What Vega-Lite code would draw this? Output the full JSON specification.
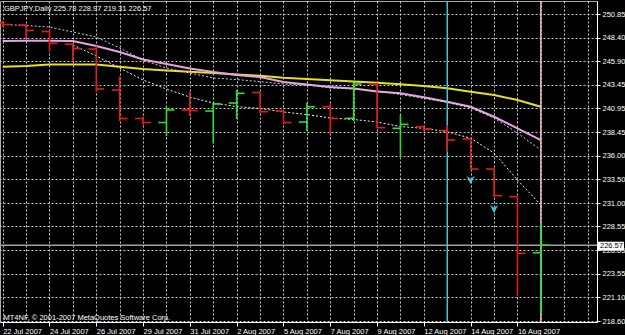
{
  "$schema": "https://vega.github.io/schema/vega-lite/v6.json",
  "width": 597,
  "height": 321,
  "autosize": {"type": "none"},
  "padding": {"left": 0, "top": 1, "right": 28, "bottom": 13},
  "background": "#000000",
  "config": {
    "view": {"stroke": "#a8a8a8", "strokeWidth": 1},
    "font": "Liberation Sans",
    "axis": {
      "gridColor": "#e0e0e0", "gridDash": [2, 2], "gridWidth": 1, "gridOpacity": 0.9,
      "domainColor": "#ffffff", "domainWidth": 1,
      "labelColor": "#ffffff", "labelFontSize": 7.5, "labelFont": "Liberation Sans",
      "labelOverlap": false, "labelBound": false, "labelFlush": false
    },
    "axisX": {"tickSize": 4, "labelAlign": "left", "labelDx": 1, "labelPadding": 1, "labelBaseline": "top"},
    "axisY": {"tickSize": 3, "tickColor": "#ffffff", "labelPadding": 2}
  },
  "title": {
    "text": "GBPJPY,Daily  225.78 228.97 219.31 226.57",
    "anchor": "start", "frame": "group", "orient": "top", "offset": -18,
    "baseline": "alphabetic", "dx": 4, "color": "#ffffff", "fontSize": 7.5,
    "fontWeight": "normal", "font": "Liberation Sans"
  },
  "resolve": {"axis": {"x": "independent", "y": "independent"}},
  "datasets": {
    "ohlc": [
      {"i": 0, "d": "22 Jul 2007", "o": 249.94, "h": 250.15, "l": 249.51, "c": 249.78},
      {"i": 1, "d": "23 Jul 2007", "o": 249.72, "h": 249.80, "l": 248.33, "c": 249.15},
      {"i": 2, "d": "24 Jul 2007", "o": 249.04, "h": 249.20, "l": 246.94, "c": 247.80},
      {"i": 3, "d": "25 Jul 2007", "o": 247.70, "h": 247.80, "l": 245.89, "c": 247.25},
      {"i": 4, "d": "26 Jul 2007", "o": 247.20, "h": 247.52, "l": 242.68, "c": 243.00},
      {"i": 5, "d": "27 Jul 2007", "o": 242.89, "h": 244.29, "l": 239.63, "c": 239.89},
      {"i": 6, "d": "29 Jul 2007", "o": 239.89, "h": 240.10, "l": 239.16, "c": 239.47},
      {"i": 7, "d": "30 Jul 2007", "o": 239.47, "h": 241.15, "l": 238.05, "c": 240.79},
      {"i": 8, "d": "31 Jul 2007", "o": 240.79, "h": 242.73, "l": 240.16, "c": 240.73},
      {"i": 9, "d": "1 Aug 2007", "o": 240.68, "h": 241.52, "l": 237.29, "c": 241.42},
      {"i": 10, "d": "2 Aug 2007", "o": 241.52, "h": 242.89, "l": 239.84, "c": 242.54},
      {"i": 11, "d": "3 Aug 2007", "o": 242.63, "h": 242.68, "l": 240.42, "c": 240.61},
      {"i": 12, "d": "5 Aug 2007", "o": 240.68, "h": 240.79, "l": 239.42, "c": 239.47},
      {"i": 13, "d": "6 Aug 2007", "o": 239.52, "h": 241.55, "l": 238.58, "c": 241.13},
      {"i": 14, "d": "7 Aug 2007", "o": 241.13, "h": 241.49, "l": 238.32, "c": 239.89},
      {"i": 15, "d": "8 Aug 2007", "o": 239.91, "h": 243.76, "l": 239.63, "c": 243.52},
      {"i": 16, "d": "9 Aug 2007", "o": 243.52, "h": 243.66, "l": 238.84, "c": 238.93},
      {"i": 17, "d": "10 Aug 2007", "o": 238.86, "h": 240.26, "l": 235.88, "c": 239.28},
      {"i": 18, "d": "12 Aug 2007", "o": 239.03, "h": 239.16, "l": 238.58, "c": 238.79},
      {"i": 19, "d": "13 Aug 2007", "o": 238.63, "h": 239.21, "l": 236.37, "c": 237.63},
      {"i": 20, "d": "14 Aug 2007", "o": 237.74, "h": 237.81, "l": 234.53, "c": 234.58},
      {"i": 21, "d": "15 Aug 2007", "o": 234.58, "h": 234.66, "l": 231.64, "c": 231.78},
      {"i": 22, "d": "16 Aug 2007", "o": 231.67, "h": 231.69, "l": 221.33, "c": 225.72},
      {"i": 23, "d": "17 Aug 2007", "o": 225.78, "h": 228.97, "l": 219.31, "c": 226.57}
    ],
    "ma": [
      {"i": 0, "yellow": 245.34, "pink": 248.04, "g": 249.78, "w": null},
      {"i": 1, "yellow": 245.41, "pink": 248.07, "g": 249.67, "w": null},
      {"i": 2, "yellow": 245.57, "pink": 248.07, "g": 249.51, "w": null},
      {"i": 3, "yellow": 245.57, "pink": 248.04, "g": 248.99, "w": 247.62},
      {"i": 4, "yellow": 245.57, "pink": 247.52, "g": 248.46, "w": 246.47},
      {"i": 5, "yellow": 245.34, "pink": 246.89, "g": 247.31, "w": 245.20},
      {"i": 6, "yellow": 245.10, "pink": 246.10, "g": 246.04, "w": 243.94},
      {"i": 7, "yellow": 244.94, "pink": 245.62, "g": 245.20, "w": 243.00},
      {"i": 8, "yellow": 244.81, "pink": 245.15, "g": 244.68, "w": 242.15},
      {"i": 9, "yellow": 244.68, "pink": 244.78, "g": 244.15, "w": 241.52},
      {"i": 10, "yellow": 244.52, "pink": 244.47, "g": 243.99, "w": 241.15},
      {"i": 11, "yellow": 244.39, "pink": 244.26, "g": 243.78, "w": 240.95},
      {"i": 12, "yellow": 244.18, "pink": 243.73, "g": 243.52, "w": 240.58},
      {"i": 13, "yellow": 244.05, "pink": 243.47, "g": 243.42, "w": 240.31},
      {"i": 14, "yellow": 243.91, "pink": 243.21, "g": 243.10, "w": 239.95},
      {"i": 15, "yellow": 243.78, "pink": 243.05, "g": 243.00, "w": 239.79},
      {"i": 16, "yellow": 243.66, "pink": 242.73, "g": 242.79, "w": 239.53},
      {"i": 17, "yellow": 243.49, "pink": 242.54, "g": 242.42, "w": 239.05},
      {"i": 18, "yellow": 243.31, "pink": 242.12, "g": 242.00, "w": 238.86},
      {"i": 19, "yellow": 243.07, "pink": 241.66, "g": 241.58, "w": 238.51},
      {"i": 20, "yellow": 242.71, "pink": 241.13, "g": 241.00, "w": 237.81},
      {"i": 21, "yellow": 242.36, "pink": 240.08, "g": 239.95, "w": 236.27},
      {"i": 22, "yellow": 241.84, "pink": 238.86, "g": 238.37, "w": 233.43},
      {"i": 23, "yellow": 241.13, "pink": 237.63, "g": 236.58, "w": 230.80}
    ],
    "arrows": [
      {"i": 20, "v": 233.43},
      {"i": 21, "v": 230.38}
    ],
    "bid": [{"bid": 226.57}]
  },
  "layer": [
    {
      "data": {"name": "ma"},
      "mark": {"type": "line", "color": "#e2e21e", "strokeWidth": 2},
      "encoding": {
        "x": {
          "field": "i", "type": "quantitative",
          "scale": {"domain": [-0.115, 25.4], "nice": false, "zero": false},
          "axis": {
            "values": [0,1,2,3,4,5,6,7,8,9,10,11,12,13,14,15,16,17,18,19,20,21,22,23,24,25],
            "grid": true,
            "tickColor": {"condition": {"test": "datum.value % 2 == 1 || datum.value > 22", "value": "rgba(0,0,0,0)"}, "value": "#ffffff"},
            "labelExpr": "(datum.value % 2 == 0 && datum.value <= 22) ? ['22 Jul 2007','24 Jul 2007','26 Jul 2007','29 Jul 2007','31 Jul 2007','2 Aug 2007','5 Aug 2007','7 Aug 2007','9 Aug 2007','12 Aug 2007','14 Aug 2007','16 Aug 2007'][datum.value / 2] : ''",
            "labelOverlap": false,
            "title": "MT4NF, © 2001-2007 MetaQuotes Software Corp.",
            "titleX": 3, "titleY": -3, "titleAlign": "left", "titleAnchor": "start",
            "titleBaseline": "alphabetic", "titleColor": "#ffffff", "titleFontSize": 7.5,
            "titleFontWeight": "normal", "titleFont": "Liberation Sans"
          }
        },
        "y": {
          "field": "yellow", "type": "quantitative",
          "scale": {"domain": [218.495, 252.25], "nice": false, "zero": false},
          "axis": {
            "orient": "right",
            "values": [218.6, 221.1, 223.55, 226.05, 228.55, 231.0, 233.5, 236.0, 238.45, 240.95, 243.45, 245.9, 248.4, 250.85],
            "format": ".2f",
            "grid": true,
            "labelOverlap": false,
            "title": null
          }
        }
      }
    },
    {
      "data": {"name": "ma"},
      "mark": {"type": "line", "color": "#e4a4e4", "strokeWidth": 2},
      "encoding": {
        "x": {"field": "i", "type": "quantitative", "axis": null, "scale": {"domain": [-0.115, 25.4], "nice": false, "zero": false}},
        "y": {"field": "pink", "type": "quantitative", "axis": null, "scale": {"domain": [218.495, 252.25], "nice": false, "zero": false}}
      }
    },
    {
      "data": {"name": "ma"},
      "mark": {"type": "line", "color": "#d0d0d0", "strokeWidth": 1, "strokeDash": [2, 2]},
      "encoding": {
        "x": {"field": "i", "type": "quantitative", "axis": null, "scale": {"domain": [-0.115, 25.4], "nice": false, "zero": false}},
        "y": {"field": "g", "type": "quantitative", "axis": null, "scale": {"domain": [218.495, 252.25], "nice": false, "zero": false}}
      }
    },
    {
      "data": {"name": "ma"},
      "mark": {"type": "line", "color": "#f4f4f4", "strokeWidth": 1, "strokeDash": [2, 2]},
      "encoding": {
        "x": {"field": "i", "type": "quantitative", "axis": null, "scale": {"domain": [-0.115, 25.4], "nice": false, "zero": false}},
        "y": {"field": "w", "type": "quantitative", "axis": null, "scale": {"domain": [218.495, 252.25], "nice": false, "zero": false}}
      }
    },
    {
      "data": {"values": [{"i": 19}]},
      "mark": {"type": "rule", "color": "#3cc6d8", "strokeWidth": 1.5},
      "encoding": {
        "x": {"field": "i", "type": "quantitative", "axis": null, "scale": {"domain": [-0.115, 25.4], "nice": false, "zero": false}}
      }
    },
    {
      "data": {"values": [{"i": 23}]},
      "mark": {"type": "rule", "color": "#f2b8c6", "strokeWidth": 1.5},
      "encoding": {
        "x": {"field": "i", "type": "quantitative", "axis": null, "scale": {"domain": [-0.115, 25.4], "nice": false, "zero": false}}
      }
    },
    {
      "data": {"name": "bid"},
      "mark": {"type": "rule", "color": "#a0a0a0", "strokeWidth": 1.5},
      "encoding": {
        "y": {"field": "bid", "type": "quantitative", "axis": null, "scale": {"domain": [218.495, 252.25], "nice": false, "zero": false}}
      }
    },
    {
      "data": {"name": "ohlc"},
      "mark": {"type": "rule", "strokeWidth": 1.6},
      "encoding": {
        "x": {"field": "i", "type": "quantitative", "axis": null, "scale": {"domain": [-0.115, 25.4], "nice": false, "zero": false}},
        "y": {"field": "l", "type": "quantitative", "axis": null, "scale": {"domain": [218.495, 252.25], "nice": false, "zero": false}},
        "y2": {"field": "h"},
        "color": {"condition": {"test": "datum.c < datum.o", "value": "#e41b1b"}, "value": "#2ee02e"}
      }
    },
    {
      "data": {"name": "ohlc"},
      "mark": {"type": "rule", "strokeWidth": 1.6, "xOffset": -8},
      "encoding": {
        "x": {"field": "i", "type": "quantitative", "axis": null, "scale": {"domain": [-0.115, 25.4], "nice": false, "zero": false}},
        "x2": {"field": "i"},
        "y": {"field": "o", "type": "quantitative", "axis": null, "scale": {"domain": [218.495, 252.25], "nice": false, "zero": false}},
        "color": {"condition": {"test": "datum.c < datum.o", "value": "#e41b1b"}, "value": "#2ee02e"}
      }
    },
    {
      "data": {"name": "ohlc"},
      "mark": {"type": "rule", "strokeWidth": 1.6, "x2Offset": 8},
      "encoding": {
        "x": {"field": "i", "type": "quantitative", "axis": null, "scale": {"domain": [-0.115, 25.4], "nice": false, "zero": false}},
        "x2": {"field": "i"},
        "y": {"field": "c", "type": "quantitative", "axis": null, "scale": {"domain": [218.495, 252.25], "nice": false, "zero": false}},
        "color": {"condition": {"test": "datum.c < datum.o", "value": "#e41b1b"}, "value": "#2ee02e"}
      }
    },
    {
      "data": {"name": "arrows"},
      "mark": {"type": "point", "shape": "M-1,-1 L0,-0.3 L1,-1 L0,1 Z", "filled": true, "color": "#3cc6d8", "size": 70, "opacity": 1},
      "encoding": {
        "x": {"field": "i", "type": "quantitative", "axis": null, "scale": {"domain": [-0.115, 25.4], "nice": false, "zero": false}},
        "y": {"field": "v", "type": "quantitative", "axis": null, "scale": {"domain": [218.495, 252.25], "nice": false, "zero": false}}
      }
    },
    {
      "data": {"name": "bid"},
      "mark": {"type": "rule", "color": "#ffffff", "strokeWidth": 9, "xOffset": 1, "x2Offset": 27, "yOffset": 1},
      "encoding": {
        "x": {"value": "width"},
        "x2": {"value": "width"},
        "y": {"field": "bid", "type": "quantitative", "axis": null, "scale": {"domain": [218.495, 252.25], "nice": false, "zero": false}}
      }
    },
    {
      "data": {"name": "bid"},
      "mark": {"type": "text", "color": "#000000", "fontSize": 7.5, "font": "Liberation Sans", "align": "left", "baseline": "middle", "dx": 3, "dy": 1},
      "encoding": {
        "x": {"value": "width"},
        "y": {"field": "bid", "type": "quantitative", "axis": null, "scale": {"domain": [218.495, 252.25], "nice": false, "zero": false}},
        "text": {"field": "bid", "type": "quantitative", "format": ".2f"}
      }
    }
  ]
}
